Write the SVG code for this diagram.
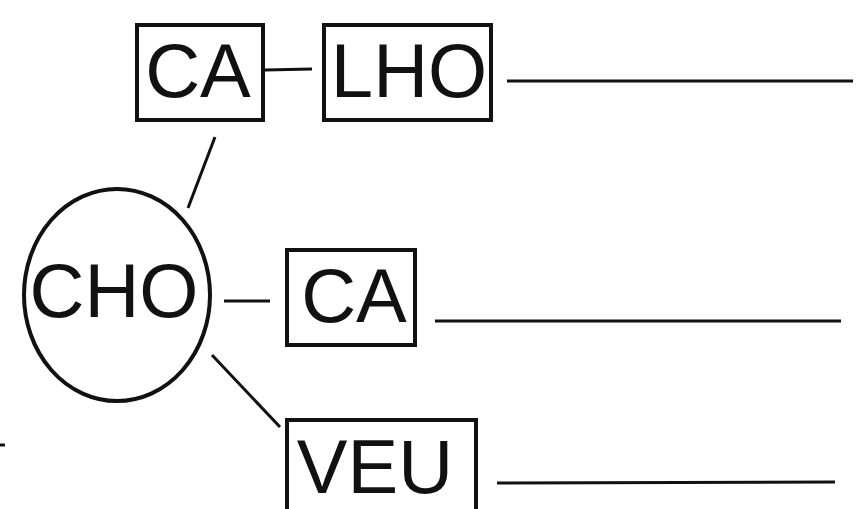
<svg xmlns="http://www.w3.org/2000/svg" width="861" height="509" viewBox="0 0 861 509">
<style>
.box{fill:none;stroke:#111;stroke-width:4}
.lbl{font-family:"Liberation Sans",Arial,sans-serif;font-size:76px;fill:#111;text-anchor:middle}
.ln{stroke:#111;stroke-width:3;fill:none}
</style>
<rect width="861" height="509" fill="#fff"/>
<g id="connectors">
<line class="ln" x1="265" y1="70" x2="312" y2="69"/>
<line class="ln" x1="215" y1="137" x2="188" y2="208"/>
<line class="ln" x1="224" y1="301" x2="270" y2="301"/>
<line class="ln" x1="212" y1="355" x2="280" y2="427"/>
<line class="ln" x1="507" y1="81" x2="853" y2="81"/>
<line class="ln" x1="435" y1="321" x2="841" y2="321"/>
<line class="ln" x1="497" y1="483" x2="835" y2="482"/>
<line class="ln" x1="0" y1="445" x2="5" y2="445"/>
</g>
<g id="node-ca-top">
<rect class="box" x="137" y="25" width="126" height="95"/>
<text class="lbl" x="198" y="97">CA</text>
</g>
<g id="node-lho">
<rect class="box" x="324" y="25" width="167" height="95"/>
<text class="lbl" x="409" y="97">LHO</text>
</g>
<g id="node-cho">
<ellipse class="box" cx="117" cy="295" rx="93" ry="106"/>
<text class="lbl" x="114" y="317">CHO</text>
</g>
<g id="node-ca-mid">
<rect class="box" x="287" y="250" width="128" height="95"/>
<text class="lbl" x="354" y="322">CA</text>
</g>
<g id="node-veu">
<rect class="box" x="287" y="420" width="189" height="100"/>
<text class="lbl" x="375" y="493">VEU</text>
</g>
</svg>
